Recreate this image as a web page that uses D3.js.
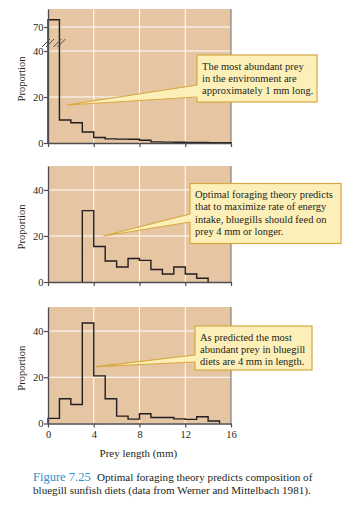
<!DOCTYPE html>
<html>
<head>
<meta charset="utf-8">
<script src="https://cdn.jsdelivr.net/npm/d3@7"></script>
<style>
  body { margin: 0; background: #fff; }
  text { font-family: "Liberation Serif", "DejaVu Serif", serif; fill: #231f20; }
</style>
</head>
<body>
<script>
// Width and height
var w = 352;
var h = 509;

// Data: proportion of prey in each 1 mm length class
var binStarts = [0, 1, 2, 3, 4, 5, 6, 7, 8, 9, 10, 11, 12, 13, 14, 15];
var environment = [79, 10, 8.8, 4.8, 2.4, 1.8, 1.7, 1.6, 1.2, 0.5, 0.4, 0.3, 0.2, 0.2, 0.1, 0.1];
var predictedStarts = [3, 4, 5, 6, 7, 8, 9, 10, 11, 12, 13];
var predicted = [31, 15.4, 9.1, 6.5, 10.2, 9.4, 5.4, 3.5, 6.5, 3.5, 1.6];
var dietStarts = [0, 1, 2, 3, 4, 5, 6, 7, 8, 9, 10, 11, 12, 13, 14];
var diet = [2.2, 10.7, 8.2, 43.5, 20.6, 10.7, 3.2, 1.9, 4.2, 2.6, 2.6, 2.0, 1.8, 2.9, 1.1];
var xTicks = [0, 4, 8, 12, 16];
var yTicksTop = [0, 20, 40, 70];
var yTicks = [0, 20, 40];

var notes = [
  ["The most abundant prey", "in the environment are", "approximately 1 mm long."],
  ["Optimal foraging theory predicts", "that to maximize rate of energy", "intake, bluegills should feed on", "prey 4 mm or longer."],
  ["As predicted the most", "abundant prey in bluegill", "diets are 4 mm in length."]
];
// pointer tips in data units [mm, proportion]
var tips = [[1.65, 16.5], [4.85, 20], [4.2, 24.6]];

var left = 48, right = 231;
var bg = "#e6c5a3";

var svg = d3.select("body").append("svg")
  .attr("width", w)
  .attr("height", h);

var xScale = d3.scaleLinear().domain([0, 16]).range([left, right]);

var panels = [
  { starts: binStarts, values: environment, top: 9, bottom: 143, ticks: yTicksTop,
    y: d3.scaleLinear().domain([0, 40, 70, 92.5]).range([143, 51, 27, 9]),
    box: { x: 197, y: 55, w: 120, h: 47, base: [85, 97] } },
  { starts: predictedStarts, values: predicted, top: 166, bottom: 282, ticks: yTicks,
    y: d3.scaleLinear().domain([0, 50.4]).range([282, 166]),
    box: { x: 190, y: 183.5, w: 151, h: 60, base: [214, 222] } },
  { starts: dietStarts, values: diet, top: 307, bottom: 423.5, ticks: yTicks,
    y: d3.scaleLinear().domain([0, 50.4]).range([423.5, 307]),
    box: { x: 195, y: 326, w: 117, h: 44, base: [355, 362] } }
];

panels.forEach(function(p, i) {
  var g = svg.append("g");
  var yScale = p.y;

  // background
  g.append("rect")
    .attr("x", left).attr("y", p.top)
    .attr("width", right - left).attr("height", p.bottom - p.top)
    .attr("fill", bg);

  // grid
  g.selectAll(".vg").data(xTicks.slice(1, -1)).enter().append("line")
    .attr("x1", function(d) { return xScale(d); })
    .attr("x2", function(d) { return xScale(d); })
    .attr("y1", p.top).attr("y2", p.bottom)
    .attr("stroke", "#fff").attr("stroke-width", 1);
  g.selectAll(".hg").data(p.ticks.slice(1)).enter().append("line")
    .attr("x1", left).attr("x2", right)
    .attr("y1", function(d) { return yScale(d); })
    .attr("y2", function(d) { return yScale(d); })
    .attr("stroke", "#fff").attr("stroke-width", 1);

  // right border
  g.append("line")
    .attr("x1", right).attr("x2", right)
    .attr("y1", p.top).attr("y2", p.bottom)
    .attr("stroke", "#6d6e70").attr("stroke-width", 1);

  // step outline of histogram
  var n = p.starts.length;
  var pts = [[p.starts[0], 0]];
  p.starts.forEach(function(s, k) { pts.push([s, p.values[k]]); });
  pts.push([p.starts[n - 1] + 1, p.values[n - 1]]);
  pts.push([p.starts[n - 1] + 1, 0]);
  var line = d3.line()
    .x(function(d) { return xScale(d[0]); })
    .y(function(d) { return yScale(d[1]); })
    .curve(d3.curveStepAfter);
  g.append("path")
    .attr("d", line(pts))
    .attr("fill", "none")
    .attr("stroke", "#231f20")
    .attr("stroke-width", 1.4);

  // axes
  var xAxis = d3.axisBottom(xScale).tickValues(xTicks).tickSize(4).tickSizeOuter(0);
  if (i < 2) xAxis.tickFormat("");
  var gx = g.append("g")
    .attr("transform", "translate(0," + p.bottom + ")")
    .call(xAxis);
  var yAxis = d3.axisLeft(yScale).tickValues(p.ticks).tickSize(4).tickSizeOuter(0);
  var gy = g.append("g")
    .attr("transform", "translate(" + left + ",0)")
    .call(yAxis);
  [gx, gy].forEach(function(a) {
    a.select(".domain").attr("stroke", "#4d4d4f").attr("stroke-width", 1.3);
    a.selectAll(".tick line").attr("stroke", "#4d4d4f").attr("stroke-width", 1.2);
    a.selectAll("text")
      .attr("font-family", "Liberation Serif, serif")
      .attr("font-size", "10.5px")
      .attr("fill", "#231f20");
  });
  gy.selectAll("text").attr("x", -4.5);
  gx.selectAll("text").attr("y", 7);

  // y title
  g.append("text")
    .attr("transform", "translate(25," + ((p.top + p.bottom) / 2 + 3) + ") rotate(-90)")
    .attr("text-anchor", "middle")
    .attr("font-size", "10.5px")
    .text("Proportion");

  // break marks on top panel
  if (i === 0) {
    [0, 1].forEach(function(v) {
      var cx = xScale(v), cy = yScale(50);
      [-2, 2].forEach(function(o) {
        g.append("line")
          .attr("x1", cx + o - 4).attr("y1", cy + 4)
          .attr("x2", cx + o + 4).attr("y2", cy - 4)
          .attr("stroke", "#4d4d4f").attr("stroke-width", 1);
      });
    });
  }

  // callout
  var b = p.box;
  var tx = xScale(tips[i][0]), ty = yScale(tips[i][1]);
  g.append("rect")
    .attr("x", b.x).attr("y", b.y)
    .attr("width", b.w).attr("height", b.h)
    .attr("fill", "#fdefb8")
    .attr("stroke", "#d8a73f")
    .attr("stroke-width", 1.2);
  g.append("polygon")
    .attr("points", [[tx, ty], [b.x + 1.5, b.base[0]], [b.x + 1.5, b.base[1]]].join(" "))
    .attr("fill", "#fdefb8");
  g.append("polyline")
    .attr("points", [[b.x, b.base[0]], [tx, ty], [b.x, b.base[1]]].join(" "))
    .attr("fill", "none")
    .attr("stroke", "#d8a73f")
    .attr("stroke-width", 1.1);
  g.append("text")
    .attr("x", b.x + 5)
    .attr("y", b.y + 14.5)
    .attr("font-size", "10.5px")
    .selectAll("tspan").data(notes[i]).enter().append("tspan")
    .attr("x", b.x + 5)
    .attr("dy", function(d, k) { return k === 0 ? 0 : 12.4; })
    .text(function(d) { return d; });
});

// x title
svg.append("text")
  .attr("x", xScale(7.9))
  .attr("y", 457)
  .attr("text-anchor", "middle")
  .attr("font-size", "11px")
  .text("Prey length (mm)");

// caption
svg.append("text")
  .attr("x", 33).attr("y", 481)
  .attr("font-family", "Liberation Sans, Arial, sans-serif")
  .attr("font-size", "12.5px")
  .style("fill", "#2f8fcb")
  .text("Figure 7.25");
svg.append("text")
  .attr("x", 97).attr("y", 480.5)
  .attr("font-size", "11.1px")
  .text("Optimal foraging theory predicts composition of");
svg.append("text")
  .attr("x", 33).attr("y", 494)
  .attr("font-size", "11.1px")
  .text("bluegill sunfish diets (data from Werner and Mittelbach 1981).");
</script>
</body>
</html>
